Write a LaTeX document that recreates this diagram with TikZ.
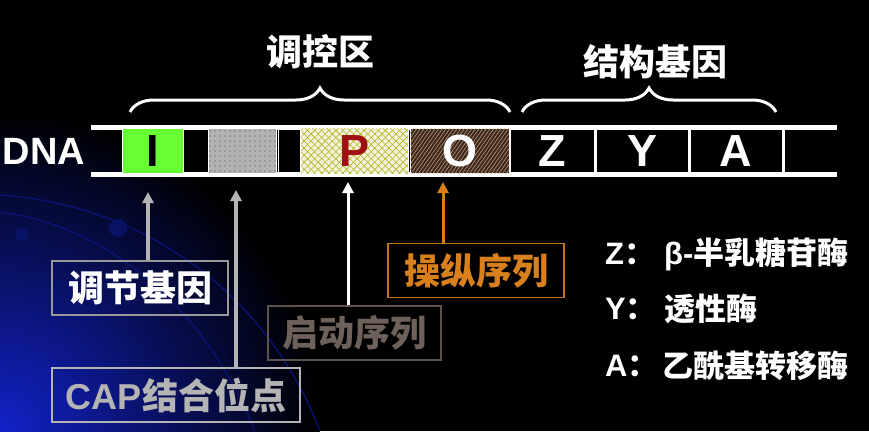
\documentclass[tikz,border=0pt]{standalone}
\usepackage{fontspec}
\setmainfont{Liberation Sans}
\newfontfamily\cjk{Noto Sans CJK SC}
\newfontfamily\latin{Liberation Sans}
\usetikzlibrary{arrows.meta,patterns,patterns.meta,decorations.pathreplacing}
\definecolor{genegreen}{HTML}{66FF33}
\definecolor{capgray}{HTML}{B4B4B4}
\definecolor{promcream}{HTML}{F2F2DC}
\definecolor{promtext}{HTML}{6E605A}
\definecolor{opbrown}{HTML}{3C2A22}
\definecolor{optext}{HTML}{D9801E}
\definecolor{darkred}{HTML}{A01010}
\definecolor{glowblue}{HTML}{1222C8}
\tikzset{
	genebox/.style = {
		rectangle,
		draw = white,
		line width = 1pt,
		inner sep = 0pt,
		minimum height = 45pt,
		font = \fontsize{45}{45}\selectfont\bfseries,
	},
	strand/.style = {white, line width = 5pt},
	divider/.style = {white, line width = 3pt},
	tagbox/.style = {
		rectangle,
		line width = 1.5pt,
		inner sep = 0pt,
		minimum height = 54pt,
		font = \fontsize{36}{36}\selectfont\bfseries\cjk,
	},
	marker/.style = {-{Triangle[width=11pt,length=11pt]}, line width = 3.5pt},
	heading/.style = {white, font = \fontsize{36}{36}\selectfont\bfseries\cjk},
	legend/.style = {white, anchor = west, inner sep = 0pt,
		font = \fontsize{31}{31}\selectfont\bfseries\cjk},
}

\begin{document}
\begin{tikzpicture}[x = 1pt, y = -1pt]
	% background
	\useasboundingbox (0,0) rectangle (869,431);
	\fill[black] (0,0) rectangle (869,431);
	\begin{scope}
		\clip (0,0) rectangle (869,431);
		\shade[inner color = glowblue, outer color = black] (0,431) circle (320);
		\draw[glowblue!60!black, line width = 1.2pt] (0,195) .. controls (150,205) and (270,300) .. (320,431);
		\draw[glowblue!60!black, line width = 1.2pt] (0,212) .. controls (120,228) and (210,320) .. (255,431);
		\fill[glowblue!50!black] (22,235) circle (7);
		\fill[glowblue!50!black] (118,228) circle (9);
	\end{scope}

	% DNA strand
	\node[white, font = \fontsize{38}{38}\selectfont\bfseries] (dna) at (44,151) {DNA};
	\draw[strand] (91,127.5) -- (837,127.5);
	\draw[strand] (91,174) -- (837,174);
	\foreach \x in {509,595,689,783}
		\draw[divider] (\x,130) -- (\x,172);

	\node[genebox, fill = genegreen, minimum width = 61pt] (geneI) at (152.5,151) {\textcolor{black}{I}};
	\node[genebox, fill = black!30, minimum width = 68pt,
		postaction = {pattern = {Dots[radius = 0.7pt, distance = 5pt]}, pattern color = black!70}] (cap) at (242,151) {};
	\node[genebox, minimum width = 22pt] (spacer) at (289,151) {};
	\node[genebox, fill = promcream, minimum width = 107pt,
		postaction = {pattern = {Lines[angle = 45, distance = 5pt, line width = 0.6pt]}, pattern color = olive!60},
		postaction = {pattern = {Lines[angle = -45, distance = 5pt, line width = 0.6pt]}, pattern color = olive!60}] (geneP) at (354.5,151) {\textcolor{darkred}{P}};
	\node[genebox, fill = opbrown, minimum width = 99pt,
		postaction = {pattern = {Lines[angle = 55, distance = 3pt, line width = 0.5pt]}, pattern color = brown!70!white}] (geneO) at (459.5,151) {\textcolor{white}{O}};
	\node[genebox, draw = none, white] (geneZ) at (552,151) {Z};
	\node[genebox, draw = none, white] (geneY) at (642,151) {Y};
	\node[genebox, draw = none, white] (geneA) at (736,151) {A};

	% braces and headings
	\draw[white, line width = 3pt, decorate, decoration = {brace, amplitude = 24pt}] (130,112) -- (510,112);
	\draw[white, line width = 3pt, decorate, decoration = {brace, amplitude = 24pt}] (522,112) -- (776,112);
	\node[heading] (regzone) at (320,52) {调控区};
	\node[heading] (strgenes) at (655,62) {结构基因};

	% labels with arrows
	\node[tagbox, draw = gray!80!white, text = white, minimum width = 176pt] (lblReg) at (140,288) {调节基因};
	\node[tagbox, draw = capgray, text = capgray, minimum width = 248pt] (lblCAP) at (176,395) {{\latin CAP}结合位点};
	\node[tagbox, draw = promtext!85!black, text = promtext, minimum width = 173pt] (lblProm) at (354.5,333) {启动序列};
	\node[tagbox, draw = optext!90!black, text = optext, minimum width = 176pt] (lblOp) at (476,270.5) {操纵序列};

	\coordinate (tipI) at (148,192);
	\coordinate (tipCAP) at (236,190);
	\coordinate (tipP) at (348,182);
	\coordinate (tipO) at (443,182);
	\draw[marker, capgray] (tipI |- lblReg.north) -- (tipI);
	\draw[marker, capgray] (tipCAP |- lblCAP.north) -- (tipCAP);
	\draw[marker, white, line width = 3pt] (tipP |- lblProm.north) -- (tipP);
	\draw[marker, optext, line width = 3pt] (tipO |- lblOp.north) -- (tipO);

	% legend
	\node[legend] (keyZ) at (605,254) {{\latin Z}：};
	\node[legend] (keyY) at (605,309) {{\latin Y}：};
	\node[legend] (keyA) at (605,366) {{\latin A}：};
	\node[legend] (txtZ) at (664,254) {{\latin β-}半乳糖苷酶};
	\node[legend] (txtY) at (664,309) {透性酶};
	\node[legend] (txtA) at (662,366) {乙酰基转移酶};
\end{tikzpicture}
\end{document}
